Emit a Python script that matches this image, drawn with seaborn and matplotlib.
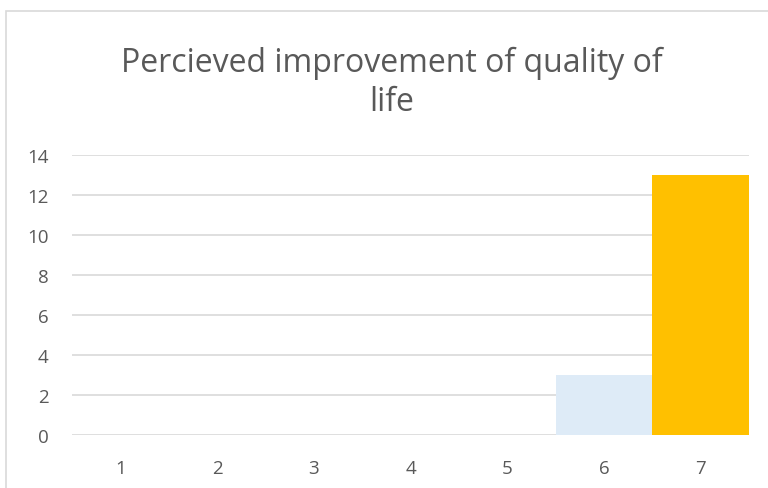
import matplotlib
matplotlib.use("Agg")
import matplotlib.pyplot as plt
import matplotlib.patches as mpatches
import seaborn as sns

# chart data
categories = ["1", "2", "3", "4", "5", "6", "7"]
counts = [0, 0, 0, 0, 0, 3, 13]
bar_colors = ["#5B9BD5", "#ED7D31", "#A5A5A5", "#FFC000", "#4472C4", "#DEEBF7", "#FFC000"]
title = "Percieved improvement of quality of\nlife"

sns.set_style("white")
plt.rcParams["font.family"] = ["Open Sans", "DejaVu Sans"]

fig = plt.figure(figsize=(7.68, 4.89), dpi=100)
ax = fig.add_axes([72 / 768, 1 - 436 / 489, (749 - 72) / 768, (436 - 156) / 489])

sns.barplot(x=categories, y=counts, hue=categories, palette=bar_colors,
            width=1.0, saturation=1, linewidth=0, legend=False, ax=ax, zorder=3)

ax.set_ylim(0, 14)
ax.set_xlim(-0.5, 6.5)
ax.set_yticks(range(0, 15, 2))
ax.yaxis.grid(True, color="#D9D9D9", linewidth=1.2, zorder=0)
ax.set_axisbelow(True)
for s in ax.spines.values():
    s.set_visible(False)
ax.tick_params(axis="both", length=0, labelsize=13.5, labelcolor="#595959")
ax.tick_params(axis="y", pad=17)
ax.tick_params(axis="x", pad=17)
ax.set_xlabel("")
ax.set_ylabel("")

# chart title
fig.text(392 / 768, 1 - 83 / 489, title, ha="center", va="center",
         fontsize=23, color="#595959", linespacing=1.25)

# chart area border
fig.patches.append(mpatches.Rectangle((6 / 768, -0.1), 1.0, 1 - 12 / 489 + 0.1,
                                      transform=fig.transFigure, fill=False,
                                      edgecolor="#D9D9D9", linewidth=1.2))

plt.savefig("out.png", dpi=100)
